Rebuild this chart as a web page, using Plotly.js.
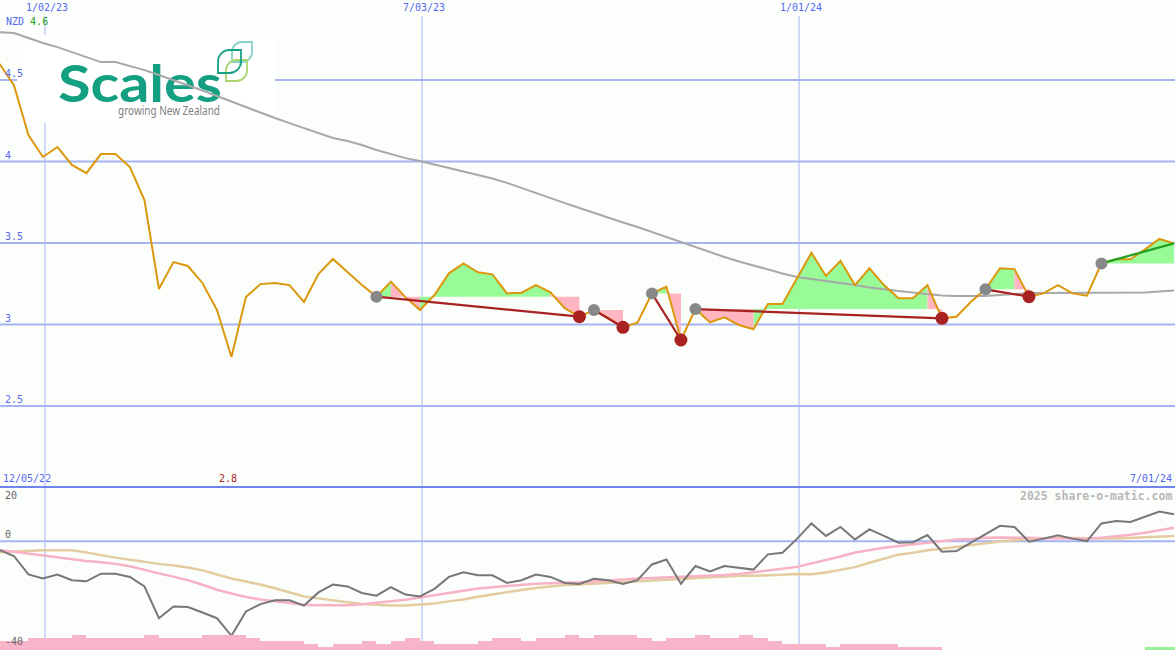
<!DOCTYPE html>
<html>
<head>
<meta charset="utf-8">
<script src="https://cdn.plot.ly/plotly-3.0.1.min.js"></script>
<style>html,body{margin:0;padding:0;background:#fcfefc;}</style>
</head>
<body>
<div id="chart" style="width:1175px;height:650px;"></div>
<script>
// ---------------- data ----------------
const START_DATE = '2022-12-11';          // first weekly observation
const currency = 'NZD';
const periodStartText = '12/05/22';
const periodEndText = '7/01/24';
const watermark = '2025 share-o-matic.com';

// weekly closing price (NZD)
const closes = [4.60, 4.469, 4.162, 4.028, 4.089, 3.979, 3.929, 4.046, 4.046, 3.966,
  3.764, 3.218, 3.383, 3.359, 3.255, 3.089, 2.801, 3.169, 3.248, 3.255,
  3.242, 3.138, 3.310, 3.402, 3.322, 3.242, 3.171, 3.263, 3.168, 3.089,
  3.181, 3.314, 3.375, 3.320, 3.308, 3.191, 3.195, 3.242, 3.198, 3.099,
  3.048, 3.089, 3.040, 2.983, 3.011, 3.191, 3.232, 2.905, 3.095, 3.013,
  3.044, 2.997, 2.971, 3.126, 3.126, 3.285, 3.440, 3.298, 3.391, 3.242,
  3.345, 3.242, 3.161, 3.161, 3.242, 3.038, 3.048, 3.140, 3.216, 3.345,
  3.340, 3.171, 3.191, 3.242, 3.191, 3.177, 3.375, 3.400, 3.400, 3.461,
  3.525, 3.498];

// long moving average (grey)
const movingAvg = [4.794, 4.788, 4.758, 4.727, 4.702, 4.672, 4.641, 4.610, 4.610, 4.586,
  4.561, 4.531, 4.500, 4.469, 4.436, 4.402, 4.368, 4.334, 4.299, 4.267,
  4.236, 4.206, 4.175, 4.144, 4.126, 4.101, 4.071, 4.046, 4.021, 4.003,
  3.982, 3.960, 3.939, 3.917, 3.896, 3.869, 3.837, 3.807, 3.776, 3.745,
  3.715, 3.684, 3.653, 3.626, 3.598, 3.567, 3.537, 3.506, 3.475, 3.445,
  3.414, 3.387, 3.362, 3.334, 3.313, 3.291, 3.279, 3.270, 3.258, 3.242,
  3.227, 3.215, 3.206, 3.196, 3.187, 3.178, 3.175, 3.175, 3.175, 3.181,
  3.187, 3.193, 3.193, 3.193, 3.193, 3.193, 3.193, 3.193, 3.193, 3.196,
  3.202, 3.209];

// trend segments (week indices): start (grey dot) -> end (red dot)
const trendStart = [26, 41, 45, 48, 68, 76];
const trendEnd   = [40, 43, 47, 65, 71, 81];
const trendDir   = ['down', 'down', 'down', 'down', 'down', 'up'];

// lower panel: momentum oscillator and its averages
const momentum = [-3.2, -5.4, -12.2, -13.7, -12.2, -14.3, -14.7, -11.9, -11.9, -13.1,
  -16.6, -28.3, -24.0, -24.2, -26.2, -28.3, -34.8, -25.8, -23.1, -21.7,
  -21.7, -23.7, -18.8, -15.9, -16.6, -19.0, -20.0, -16.9, -19.6, -20.3,
  -17.5, -13.1, -11.4, -12.5, -12.5, -15.3, -14.3, -12.2, -13.1, -15.3,
  -15.7, -13.8, -14.3, -15.7, -14.3, -8.5, -6.7, -15.6, -9.1, -11.1,
  -9.1, -9.7, -10.4, -4.8, -4.2, 0.9, 6.6, 2.0, 5.3, 0.7,
  4.4, 2.0, -0.5, -0.3, 2.3, -3.8, -3.6, -0.5, 2.6, 5.7,
  5.3, -0.1, 1.0, 2.2, 1.0, 0.1, 6.6, 7.5, 7.1, 9.0,
  11.0, 10.0];
const momentumFast = [-3.2, -3.9, -4.6, -5.2, -5.9, -6.6, -7.2, -7.7, -8.3, -9.2,
  -10.6, -11.8, -13.0, -14.3, -16.0, -17.8, -19.2, -20.5, -21.4, -22.1,
  -22.7, -23.3, -23.5, -23.5, -23.5, -23.2, -22.7, -22.2, -21.5, -20.7,
  -19.9, -19.1, -18.2, -17.4, -16.9, -16.4, -16.0, -15.6, -15.4, -15.3,
  -15.1, -14.8, -14.4, -14.0, -13.7, -13.5, -13.3, -13.1, -12.9, -12.6,
  -12.4, -12.0, -11.4, -10.9, -10.1, -9.4, -8.2, -7.0, -5.6, -4.1,
  -3.2, -2.4, -1.7, -1.1, -0.5, 0.1, 0.7, 0.9, 1.3, 1.4,
  1.4, 1.3, 1.1, 1.0, 1.0, 1.0, 1.3, 1.8, 2.4, 3.2,
  4.0, 5.0];
const momentumSlow = [-4.0, -3.7, -3.5, -3.3, -3.3, -3.3, -4.1, -5.1, -6.0, -6.8,
  -7.6, -8.3, -8.9, -9.6, -10.7, -12.2, -13.7, -14.8, -15.9, -17.3,
  -18.9, -20.3, -21.0, -21.8, -22.4, -23.1, -23.4, -23.6, -23.6, -23.3,
  -22.9, -22.1, -21.4, -20.4, -19.5, -18.6, -17.9, -17.2, -16.7, -16.1,
  -15.9, -15.6, -15.3, -14.9, -14.6, -14.3, -14.1, -13.8, -13.5, -13.3,
  -13.0, -12.7, -12.7, -12.6, -12.3, -12.0, -12.1, -11.5, -10.5, -9.5,
  -7.9, -6.3, -4.9, -4.2, -3.3, -2.7, -2.0, -1.3, -0.7, -0.1,
  0.4, 0.9, 1.1, 1.3, 1.2, 1.0, 1.0, 1.0, 1.3, 1.5,
  1.8, 2.0];
// volume (relative level): falling weeks / rising weeks
const volumeDown = [3, 3, 4, 4, 4, 5, 4, 4, 4, 4,
  5, 4, 4, 4, 5, 5, 5, 4, 3, 3,
  3, 2, 1, 2, 2, 3, 2, 3, 4, 3,
  2, 2, 2, 3, 4, 4, 3, 4, 4, 5,
  4, 5, 5, 5, 4, 3, 4, 4, 5, 4,
  4, 5, 4, 3, 2, 2, 2, 1, 2, 2,
  2, 2, 1, 1, 1, 0, 0, 0, 0, 0,
  0, 0, 0, 0, 0, 0, 0, 0, 0, 0,
  0, 0];
const volumeUp = [0, 0, 0, 0, 0, 0, 0, 0, 0, 0,
  0, 0, 0, 0, 0, 0, 0, 0, 0, 0,
  0, 0, 0, 0, 0, 0, 0, 0, 0, 0,
  0, 0, 0, 0, 0, 0, 0, 0, 0, 0,
  0, 0, 0, 0, 0, 0, 0, 0, 0, 0,
  0, 0, 0, 0, 0, 0, 0, 0, 0, 0,
  0, 0, 0, 0, 0, 0, 0, 0, 0, 0,
  0, 0, 0, 0, 0, 0, 0, 0, 0, 1,
  1, 1];

// axis ticks
const xTickDates = ['2023-01-02', '2023-07-03', '2024-01-01'];
const xTickText  = ['1/02/23', '7/03/23', '1/01/24'];
const priceTicks = [2.5, 3, 3.5, 4, 4.5];
const oscTicks   = [20, 0, -40];

// ---------------- derived ----------------
const DAY = 86400000;
const t0 = Date.parse(START_DATE + 'T00:00:00Z');
const dates = closes.map((_, i) => new Date(t0 + 7 * i * DAY).toISOString().slice(0, 10));

// ---------------- styles / layout constants ----------------
const W = 1175, H = 650;
const SPLIT_PX = 487, TOP_PX = 16;
const X_RANGE = ['2022-12-11 06:36', '2024-06-30 12:00'];
const Y_RANGE = [2.003, 4.893];
const OSC_RANGE = [-40, 20];
const VOL_RANGE = [0, 54.33];
const BG = '#fcfefc';
const GRID = '#a6b4f4';
const SEP = '#7084ee';
const BLUE = '#5468ee';
const MONO = '"DejaVu Sans Mono", "Liberation Mono", monospace';
const GREEN_FILL = '#98fb98', PINK_FILL = '#ffb6c1';

const upperDomain = [(H - SPLIT_PX) / H, (H - TOP_PX) / H];
const lowerDomain = [0, (H - SPLIT_PX) / H];
const py = p => 1 - p / H;     // pixel row -> paper y

// ---------------- traces ----------------
const green = {x: [], y: []}, pink = {x: [], y: []};
const downLine = {x: [], y: []}, upLine = {x: [], y: []};
const startDots = {x: [], y: []}, endDots = {x: [], y: []};
trendStart.forEach((s, k) => {
  const e = trendEnd[k], base = closes[s];
  for (let i = s; i < e; i++) {
    const t = closes[i + 1] >= base ? green : pink;
    t.x.push(dates[i], dates[i + 1], dates[i + 1], dates[i], dates[i], null);
    t.y.push(closes[i], closes[i + 1], base, base, closes[i], null);
  }
  const L = trendDir[k] === 'up' ? upLine : downLine;
  L.x.push(dates[s], dates[e], null);
  L.y.push(closes[s], closes[e], null);
  startDots.x.push(dates[s]); startDots.y.push(closes[s]);
  if (trendDir[k] === 'down') { endDots.x.push(dates[e]); endDots.y.push(closes[e]); }
});

const common = {hoverinfo: 'skip', showlegend: false};
const traces = [
  Object.assign({type: 'scatter', mode: 'none', fill: 'toself', fillcolor: GREEN_FILL,
    x: green.x, y: green.y, xaxis: 'x', yaxis: 'y'}, common),
  Object.assign({type: 'scatter', mode: 'none', fill: 'toself', fillcolor: PINK_FILL,
    x: pink.x, y: pink.y, xaxis: 'x', yaxis: 'y'}, common),
  Object.assign({type: 'scatter', mode: 'lines', x: dates, y: movingAvg,
    line: {color: '#a8a8a8', width: 2}, xaxis: 'x', yaxis: 'y'}, common),
  Object.assign({type: 'scatter', mode: 'lines', x: dates, y: closes,
    line: {color: '#dc980c', width: 2}, xaxis: 'x', yaxis: 'y'}, common),
  Object.assign({type: 'scatter', mode: 'lines', x: downLine.x, y: downLine.y,
    line: {color: '#a82222', width: 2.2}, xaxis: 'x', yaxis: 'y'}, common),
  Object.assign({type: 'scatter', mode: 'lines', x: upLine.x, y: upLine.y,
    line: {color: '#22a022', width: 2.2}, xaxis: 'x', yaxis: 'y'}, common),
  Object.assign({type: 'scatter', mode: 'markers', x: startDots.x, y: startDots.y,
    marker: {color: '#888888', size: 12}, xaxis: 'x', yaxis: 'y'}, common),
  Object.assign({type: 'scatter', mode: 'markers', x: endDots.x, y: endDots.y,
    marker: {color: '#a82222', size: 13}, xaxis: 'x', yaxis: 'y'}, common),
  // lower panel
  Object.assign({type: 'scatter', mode: 'lines', x: dates, y: momentumSlow,
    line: {color: '#e3cc9e', width: 2.5}, xaxis: 'x2', yaxis: 'y2'}, common),
  Object.assign({type: 'scatter', mode: 'lines', x: dates, y: momentumFast,
    line: {color: '#f7b2c6', width: 2.5}, xaxis: 'x2', yaxis: 'y2'}, common),
  Object.assign({type: 'scatter', mode: 'lines', x: dates, y: momentum,
    line: {color: '#777777', width: 2}, xaxis: 'x2', yaxis: 'y2'}, common),
  Object.assign({type: 'bar', x: dates, y: volumeDown, offset: 0, width: 7 * DAY,
    marker: {color: '#f8b4c8', line: {width: 0}}, xaxis: 'x2', yaxis: 'y3'}, common),
  Object.assign({type: 'bar', x: dates, y: volumeUp, offset: 0, width: 7 * DAY,
    marker: {color: '#98f098', line: {width: 0}}, xaxis: 'x2', yaxis: 'y3'}, common)
];

// ---------------- gridlines as shapes ----------------
const shapes = [];
priceTicks.forEach(v => shapes.push({type: 'line', layer: 'below', xref: 'paper', x0: 0, x1: 1,
  yref: 'y', y0: v, y1: v, line: {color: GRID, width: 2}}));
xTickDates.forEach(d => shapes.push({type: 'line', layer: 'below', xref: 'x', x0: d, x1: d,
  yref: 'paper', y0: 0, y1: upperDomain[1], line: {color: GRID, width: 1}}));
shapes.push({type: 'line', layer: 'below', xref: 'paper', x0: 0, x1: 1, yref: 'y2', y0: 0, y1: 0,
  line: {color: GRID, width: 2}});
shapes.push({type: 'line', layer: 'below', xref: 'paper', x0: 0, x1: 1, yref: 'paper',
  y0: lowerDomain[1], y1: lowerDomain[1], line: {color: SEP, width: 2}});

// ---------------- annotations ----------------
const font = (c, s, extra) => Object.assign({family: MONO, size: s || 10, color: c}, extra || {});
const ann = [];
xTickDates.forEach((d, i) => ann.push({xref: 'x', x: d, xanchor: 'center', xshift: 2,
  yref: 'paper', y: 1, yanchor: 'top', text: xTickText[i], showarrow: false, font: font(BLUE)}));
priceTicks.forEach(v => ann.push({xref: 'paper', x: 0, xanchor: 'left', xshift: 3,
  yref: 'y', y: v, yanchor: 'bottom', yshift: -1, text: String(v), showarrow: false, font: font(BLUE)}));
oscTicks.forEach(v => ann.push({xref: 'paper', x: 0, xanchor: 'left', xshift: 3,
  yref: 'y2', y: v, yanchor: v === OSC_RANGE[1] ? 'top' : 'bottom', yshift: v === OSC_RANGE[0] ? 1 : -1,
  text: String(v), showarrow: false, font: font('#666666')}));
const hi = Math.max(...closes), lo = Math.min(...closes);
ann.push({xref: 'paper', x: 0, xanchor: 'left', xshift: 4, yref: 'paper', y: py(21.5), yanchor: 'middle',
  text: currency + ' <span style="color:#22a022">' + hi.toFixed(1) + '</span>', showarrow: false, font: font(BLUE)});
ann.push({xref: 'paper', x: 0, xanchor: 'left', xshift: 1, yref: 'paper', y: py(478), yanchor: 'middle',
  text: periodStartText, showarrow: false, font: font(BLUE)});
ann.push({xref: 'paper', x: 1, xanchor: 'right', xshift: -1, yref: 'paper', y: py(478), yanchor: 'middle',
  text: periodEndText, showarrow: false, font: font(BLUE)});
ann.push({xref: 'x', x: dates[closes.indexOf(lo)], xanchor: 'center', xshift: -3, yref: 'paper', y: py(478),
  yanchor: 'middle', text: lo.toFixed(1), showarrow: false, font: font('#aa2222')});
ann.push({xref: 'paper', x: 1, xanchor: 'right', xshift: -1, yref: 'paper', y: py(496), yanchor: 'middle',
  text: '<b>' + watermark + '</b>', showarrow: false, font: font('#b8b8b8', 11.5)});

// ---------------- logo ----------------
function leaf(x, y, s, col) {
  const r = s * 0.5;
  return `<path d="M${x},${y + s} L${x},${y + r} A${r},${r} 0 0 1 ${x + r},${y} L${x + s},${y} L${x + s},${y + s - r} A${r},${r} 0 0 1 ${x + s - r},${y + s} Z" fill="none" stroke="${col}" stroke-width="1.8"/>`;
}
const logoSvg = `<svg xmlns="http://www.w3.org/2000/svg" width="258" height="88" viewBox="0 0 258 88">
<rect x="0" y="0" width="258" height="88" fill="#ffffff"/>
<text x="41" y="67" font-family="Lato, 'Noto Sans', sans-serif" font-weight="700" font-size="51" fill="#13a082" textLength="164" lengthAdjust="spacingAndGlyphs">Scales</text>
<text x="101" y="80" font-family="'Noto Sans', 'DejaVu Sans', sans-serif" font-size="12.5" fill="#808080" textLength="102" lengthAdjust="spacingAndGlyphs">growing New Zealand</text>
${leaf(215, 7, 20, '#86d3c7')}
${leaf(209, 25, 21, '#a9d46f')}
${leaf(201, 15, 23, '#17a085')}
</svg>`;
const upperH = SPLIT_PX - TOP_PX;
const images = [{
  source: 'data:image/svg+xml;charset=utf-8,' + encodeURIComponent(logoSvg),
  xref: 'x domain', yref: 'y domain', x: 17 / W, y: (SPLIT_PX - 35) / upperH,
  sizex: 258 / W, sizey: 88 / upperH, xanchor: 'left', yanchor: 'top', sizing: 'stretch', layer: 'below'
}];

const hidden = {visible: false, fixedrange: true};
const layout = {
  width: W, height: H, margin: {l: 0, r: 0, t: 0, b: 0, pad: 0},
  paper_bgcolor: BG, plot_bgcolor: BG, showlegend: false, barmode: 'overlay', bargap: 0,
  xaxis: Object.assign({type: 'date', range: X_RANGE, domain: [0, 1], anchor: 'y'}, hidden),
  yaxis: Object.assign({range: Y_RANGE, domain: upperDomain, anchor: 'x'}, hidden),
  xaxis2: Object.assign({type: 'date', range: X_RANGE, domain: [0, 1], anchor: 'y2', matches: 'x'}, hidden),
  yaxis2: Object.assign({range: OSC_RANGE, domain: lowerDomain, anchor: 'x2'}, hidden),
  yaxis3: Object.assign({range: VOL_RANGE, overlaying: 'y2', anchor: 'x2'}, hidden),
  shapes: shapes, annotations: ann, images: images
};

Plotly.newPlot('chart', traces, layout, {staticPlot: true, displayModeBar: false});
</script>
</body>
</html>
